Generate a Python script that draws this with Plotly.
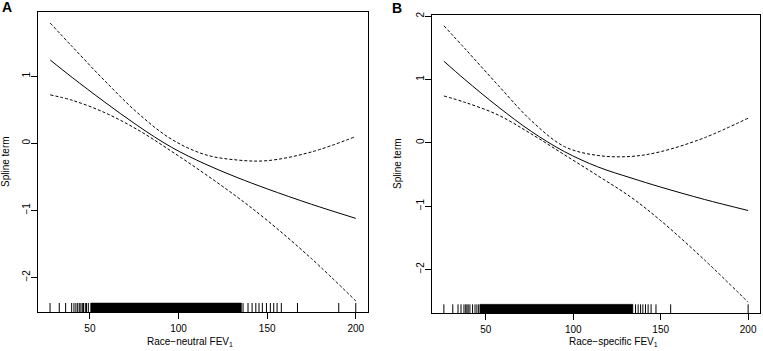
import plotly.graph_objects as go

# ---------------- data ----------------
# Panel A: race-neutral FEV1
a_x = [27.6, 40, 58, 77, 96, 115, 133, 150, 175, 200]
a_fit = [1.24, 0.98, 0.62, 0.26, -0.06, -0.31, -0.51, -0.68, -0.91, -1.12]
a_upper = [1.79, 1.44, 0.94, 0.45, 0.06, -0.17, -0.25, -0.26, -0.13, 0.10]
a_lower = [0.72, 0.64, 0.46, 0.20, -0.12, -0.46, -0.80, -1.15, -1.72, -2.35]
a_rug = [27.5, 32.7, 36.3, 39.7, 41.0, 42.1, 43.1, 44.0, 44.9, 45.7, 46.4, 47.4,
         48.1, 49.1, 136.4, 139.2, 141.5, 143.6, 145.4, 147.3, 149.6, 151.8,
         153.7, 155.6, 158.0, 167.1, 190.4, 200.0]
a_rug_dense = [50.4, 135.5]

# Panel B: race-specific FEV1
b_x = [26.0, 38, 57, 76, 95, 114, 133, 150, 175, 200]
b_fit = [1.29, 1.00, 0.57, 0.18, -0.14, -0.38, -0.555, -0.70, -0.895, -1.07]
b_upper = [1.85, 1.49, 0.91, 0.35, -0.06, -0.20, -0.215, -0.14, 0.08, 0.39]
b_lower = [0.74, 0.64, 0.44, 0.14, -0.19, -0.52, -0.86, -1.23, -1.85, -2.52]
b_rug = [26.0, 31.1, 34.1, 35.8, 37.5, 38.5, 39.2, 39.9, 40.9, 42.4, 43.8, 44.9,
         45.9, 135.6, 137.1, 138.5, 139.8, 141.3, 142.8, 144.5, 147.3, 155.7, 200.0]
b_rug_dense = [46.6, 134.1]

x_ticks = [50, 100, 150, 200]
a_y_ticks = [-2, -1, 0, 1]
b_y_ticks = [-2, -1, 0, 1, 2]

W, H = 763, 351
FONT = "Liberation Sans, Arial, Helvetica, sans-serif"


def px(v):
    return v / W


def py(v):
    return 1 - v / H


def r_range(vals):
    lo, hi = min(vals), max(vals)
    pad = (hi - lo) * 0.04
    return [lo - pad, hi + pad]


fig = go.Figure()


def add_panel(xs, fit, up, lo, rug, dense, xa, ya):
    xr = r_range(xs)
    yr = r_range(up + lo + fit)
    ybase = yr[0]
    ytop = yr[0] + 0.03 * (yr[1] - yr[0])
    rx, ry = [], []
    for v in rug:
        rx += [v, v, None]
        ry += [ybase, ytop, None]
    fig.add_trace(go.Scatter(x=rx, y=ry, mode="lines", xaxis=xa, yaxis=ya,
                             line=dict(color="black", width=1), showlegend=False,
                             hoverinfo="skip"))
    fig.add_trace(go.Scatter(x=[dense[0], dense[1], dense[1], dense[0], dense[0]],
                             y=[ybase, ybase, ytop, ytop, ybase], mode="lines",
                             fill="toself", fillcolor="black", xaxis=xa, yaxis=ya,
                             line=dict(color="black", width=0.5), showlegend=False,
                             hoverinfo="skip"))
    for ys, dash in ((up, "3px,2px"), (lo, "3px,2px"), (fit, "solid")):
        fig.add_trace(go.Scatter(x=xs, y=ys, mode="lines", xaxis=xa, yaxis=ya,
                                 line=dict(color="black", width=1, dash=dash,
                                           shape="spline", smoothing=1.0),
                                 showlegend=False))
    return xr, yr


axr_a, ayr_a = add_panel(a_x, a_fit, a_upper, a_lower, a_rug, a_rug_dense, "x", "y")
axr_b, ayr_b = add_panel(b_x, b_fit, b_upper, b_lower, b_rug, b_rug_dense, "x2", "y2")

common_ax = dict(showgrid=False, zeroline=False, showline=True, mirror=True,
                 linecolor="black", linewidth=1, ticks="outside", ticklen=6,
                 tickwidth=1, tickcolor="black", automargin=False,
                 tickfont=dict(family=FONT, size=10, color="black"))

A_dom_x = [px(38), px(368)]
A_dom_y = [py(312), py(12)]
B_dom_x = [px(431.7), px(760.3)]
B_dom_y = [py(313.3), py(14.7)]

fig.update_layout(
    width=W, height=H, margin=dict(l=0, r=0, t=0, b=0, autoexpand=False),
    paper_bgcolor="white", plot_bgcolor="white",
    xaxis=dict(domain=A_dom_x, anchor="y", range=axr_a, tickvals=x_ticks,
               ticklabelstandoff=1, **common_ax),
    yaxis=dict(domain=A_dom_y, anchor="x", range=ayr_a, tickvals=a_y_ticks,
               tickangle=-90, ticklabelstandoff=-3, **common_ax),
    xaxis2=dict(domain=B_dom_x, anchor="y2", range=axr_b, tickvals=x_ticks,
                ticklabelstandoff=1, **common_ax),
    yaxis2=dict(domain=B_dom_y, anchor="x2", range=ayr_b, tickvals=b_y_ticks,
                tickangle=-90, ticklabelstandoff=-3, **common_ax),
)

ann_font = dict(family=FONT, size=10, color="black")
annotations = [
    dict(text="Race−neutral FEV<sub>1</sub>", x=px(190), y=py(342)),
    dict(text="Race−specific FEV<sub>1</sub>", x=px(613.5), y=py(342)),
    dict(text="Spline term", x=px(6), y=(A_dom_y[0] + A_dom_y[1]) / 2, textangle=-90),
    dict(text="Spline term", x=px(397), y=(B_dom_y[0] + B_dom_y[1]) / 2, textangle=-90),
]
for a in annotations:
    fig.add_annotation(xref="paper", yref="paper", showarrow=False,
                       xanchor="center", yanchor="middle", font=ann_font, **a)

fig.add_annotation(text="<b>A</b>", x=px(7), y=py(7), xref="paper", yref="paper",
                   showarrow=False, xanchor="center", yanchor="middle",
                   font=dict(family=FONT, size=14, color="black"))
fig.add_annotation(text="<b>B</b>", x=px(397), y=py(8), xref="paper", yref="paper",
                   showarrow=False, xanchor="center", yanchor="middle",
                   font=dict(family=FONT, size=14, color="black"))

# remove the default 8px page margin so the figure fills the window exactly
fig.write_html("out.html", config={"displayModeBar": False},
               post_script="document.body.style.margin = '0';")
